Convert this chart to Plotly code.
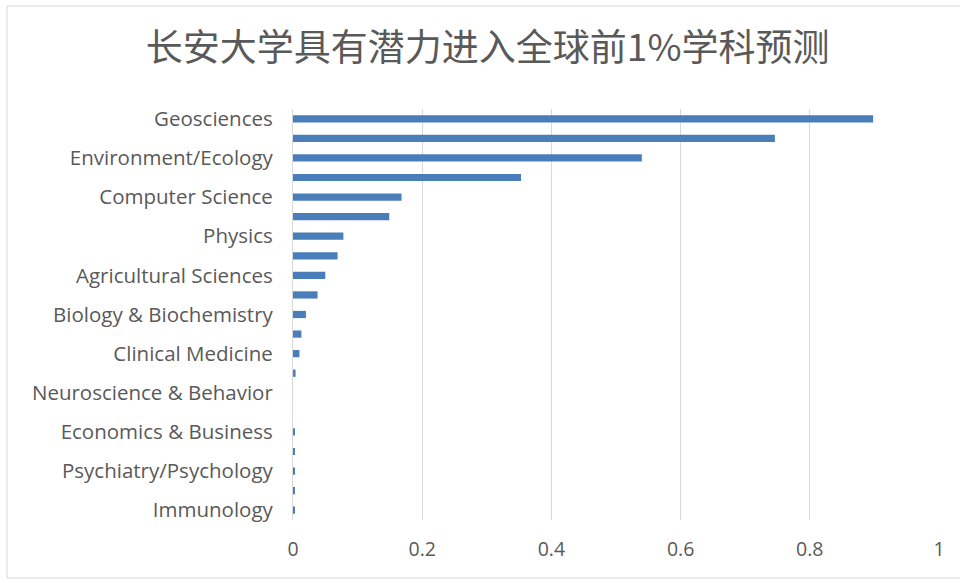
import plotly.graph_objects as go

title_text = "长安大学具有潜力进入全球前1%学科预测"

categories = [
    "Geosciences", "Chemistry", "Environment/Ecology", "Materials Science",
    "Computer Science", "Mathematics", "Physics", "Social Sciences, general",
    "Agricultural Sciences", "Plant & Animal Science", "Biology & Biochemistry",
    "Pharmacology & Toxicology", "Clinical Medicine", "Microbiology",
    "Neuroscience & Behavior", "Space Science", "Economics & Business",
    "Molecular Biology & Genetics", "Psychiatry/Psychology", "Multidisciplinary",
    "Immunology",
]
values = [
    0.898, 0.746, 0.540, 0.353,
    0.168, 0.149, 0.078, 0.069,
    0.050, 0.038, 0.020, 0.013,
    0.010, 0.004, 0.0, 0.0,
    0.003, 0.003, 0.003, 0.003,
    0.002,
]
shown_labels = categories[::2]
x_ticks = [0, 0.2, 0.4, 0.6, 0.8, 1]
x_ticktext = ["0", "0.2", "0.4", "0.6", "0.8", "1"]

fig = go.Figure(go.Bar(
    x=values, y=categories, orientation="h",
    marker=dict(color="#4A7EBB", line=dict(width=0)),
))

fig.update_layout(
    width=960, height=583,
    margin=dict(l=293, r=21, t=109, b=63),
    paper_bgcolor="white", plot_bgcolor="white",
    bargap=0.63,
    showlegend=False,
    title=dict(text=title_text, x=0.508, xanchor="center", y=1 - 48 / 583,
               yanchor="middle",
               font=dict(family="Noto Sans CJK SC", size=37, color="#595959")),
    font=dict(family="Open Sans", color="#595959"),
)
fig.update_xaxes(
    range=[0, 1], tickvals=x_ticks, ticktext=x_ticktext,
    showgrid=True, gridcolor="#D9D9D9", gridwidth=1.2,
    zeroline=False, showline=False,
    ticks="outside", ticklen=12, tickcolor="rgba(0,0,0,0)",
    tickfont=dict(family="Open Sans", size=19.5, color="#595959"),
)
fig.update_yaxes(
    categoryorder="array", categoryarray=categories, autorange="reversed",
    tickvals=shown_labels, ticktext=shown_labels,
    showline=True, linecolor="#D9D9D9", linewidth=1.2,
    showgrid=False, zeroline=False,
    ticks="outside", ticklen=15, tickcolor="rgba(0,0,0,0)",
    tickfont=dict(family="Open Sans", size=20.5, color="#595959"),
)
fig.add_shape(type="rect", xref="paper", yref="paper",
              x0=(7 - 293) / 646, x1=(968 - 293) / 646,
              y0=(520 - 578) / 411, y1=(520 - 6) / 411,
              line=dict(color="#D9D9D9", width=1), fillcolor="rgba(0,0,0,0)",
              layer="below")

fig.write_html("out.html")
